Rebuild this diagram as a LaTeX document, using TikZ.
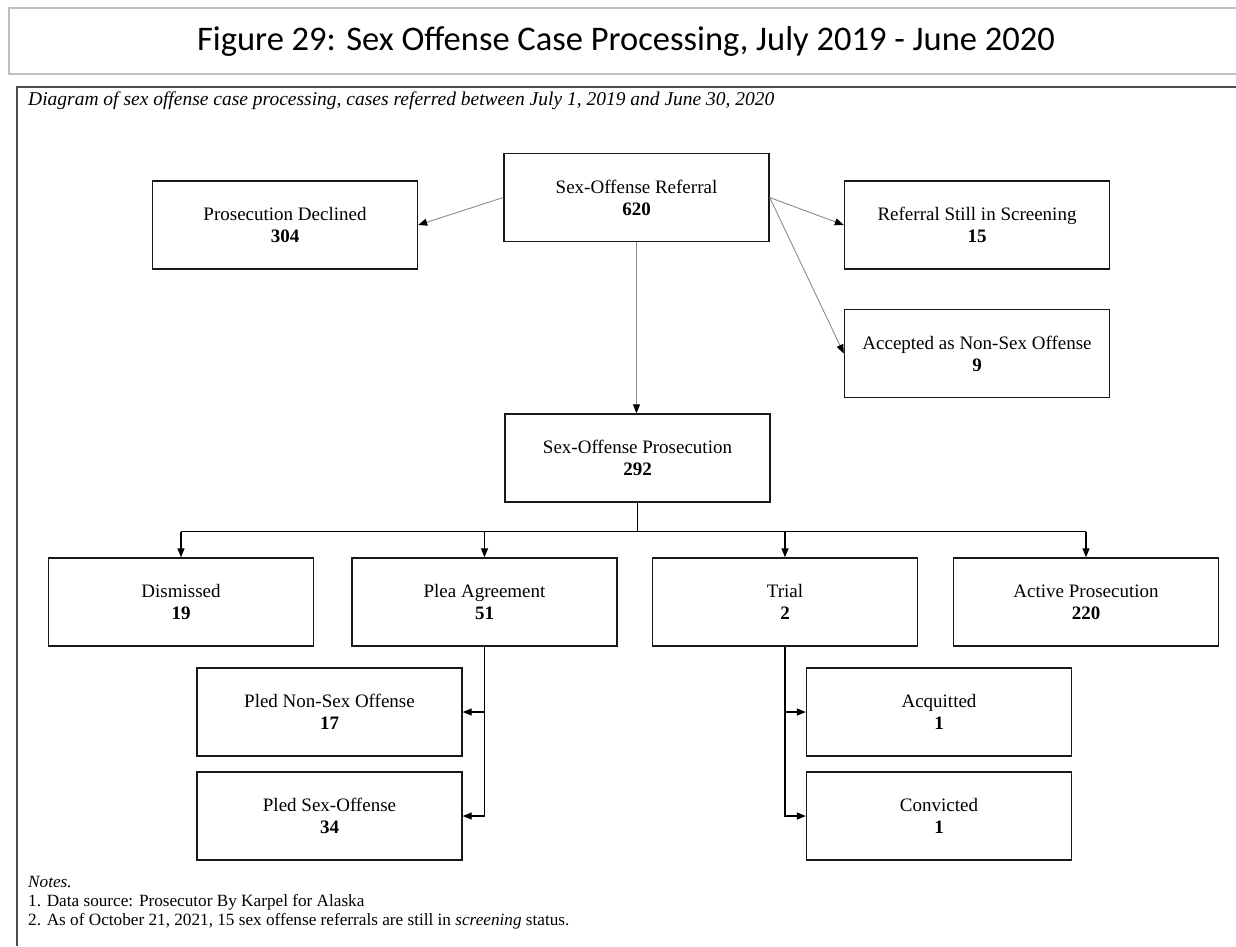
\documentclass[tikz,border=0pt]{standalone}
\usepackage{fontspec}
\setmainfont{Liberation Serif}
\newfontfamily\titlefont{Carlito}
\usetikzlibrary{arrows.meta,calc}
\begin{document}
\begin{tikzpicture}[x=1pt,y=-1pt,
  box/.style={draw=black!90,line width=1.4pt,minimum width=265pt,minimum height=88pt,inner sep=0pt,align=center,font=\fontsize{19}{22}\selectfont},
  gline/.style={draw=black!45,line width=0.9pt},
  bline/.style={draw=black,line width=1.3pt},
  tip/.style={-{Triangle[length=9pt,width=7pt,color=black]}},
  txt/.style={anchor=base west,inner sep=0pt},
  notefont/.style={font=\fontsize{17.2}{20}\selectfont}
]
\useasboundingbox (0,0) rectangle (1236,946);
\fill[white] (0,0) rectangle (1236,946);
% frames
\draw[draw=black!25,line width=2pt] (1236,8) -- (9,8) -- (9,74) -- (1236,74);
\draw[draw=black!70,line width=1.5pt] (1236,87) -- (17,87) -- (17,946);
\node[inner sep=0pt,font=\titlefont\fontsize{34.5}{40}\selectfont] (title) at (626,41) {Figure 29: Sex Offense Case Processing, July 2019 - June 2020};
\node[txt,font=\itshape\fontsize{19.5}{24}\selectfont] (cap) at (28,105) {Diagram of sex offense case processing, cases referred between July 1, 2019 and June 30, 2020};
% boxes
\node[box] (ref) at (636.5,197.5) {Sex-Offense Referral\\\textbf{620}};
\node[box] (dec) at (285,225) {Prosecution Declined\\\textbf{304}};
\node[box] (scr) at (977,225) {Referral Still in Screening\\\textbf{15}};
\node[box] (acc) at (977,353.5) {Accepted as Non-Sex Offense\\\textbf{9}};
\node[box] (pro) at (637.5,458) {Sex-Offense Prosecution\\\textbf{292}};
\node[box] (dis) at (181,602) {Dismissed\\\textbf{19}};
\node[box] (plea) at (484.5,602) {Plea Agreement\\\textbf{51}};
\node[box] (tri) at (785,602) {Trial\\\textbf{2}};
\node[box] (act) at (1086,602) {Active Prosecution\\\textbf{220}};
\node[box] (pns) at (329.5,712) {Pled Non-Sex Offense\\\textbf{17}};
\node[box] (psx) at (329.5,816) {Pled Sex-Offense\\\textbf{34}};
\node[box] (acq) at (939,712) {Acquitted\\\textbf{1}};
\node[box] (con) at (939,816) {Convicted\\\textbf{1}};
% connectors
\draw[gline,tip] (ref.west) -- (dec.east);
\draw[gline,tip] (ref.east) -- (scr.west);
\draw[gline,tip] (ref.east) -- (acc.west);
\draw[gline,tip] (ref.south) -- (ref.south |- pro.north);
\coordinate (bus) at ($(pro.south)+(0,29)$);
\draw[bline] (pro.south) -- (bus);
\draw[bline] (dis.north |- bus) -- (act.north |- bus);
\foreach \n in {dis,plea,tri,act} \draw[bline,tip] (\n.north |- bus) -- (\n.north);
\draw[bline,tip] (plea.south) |- (psx.east);
\draw[bline,tip] (plea.south |- pns.east) -- (pns.east);
\draw[bline,tip] (tri.south) |- (con.west);
\draw[bline,tip] (tri.south |- acq.west) -- (acq.west);
% notes
\node[txt,notefont] (n0) at (28,887) {\textit{Notes.}};
\node[txt,notefont] (n1) at (28,906) {1. Data source: Prosecutor By Karpel for Alaska};
\node[txt,notefont] (n2) at (28,925) {2. As of October 21, 2021, 15 sex offense referrals are still in \textit{screening} status.};
\end{tikzpicture}
\end{document}
